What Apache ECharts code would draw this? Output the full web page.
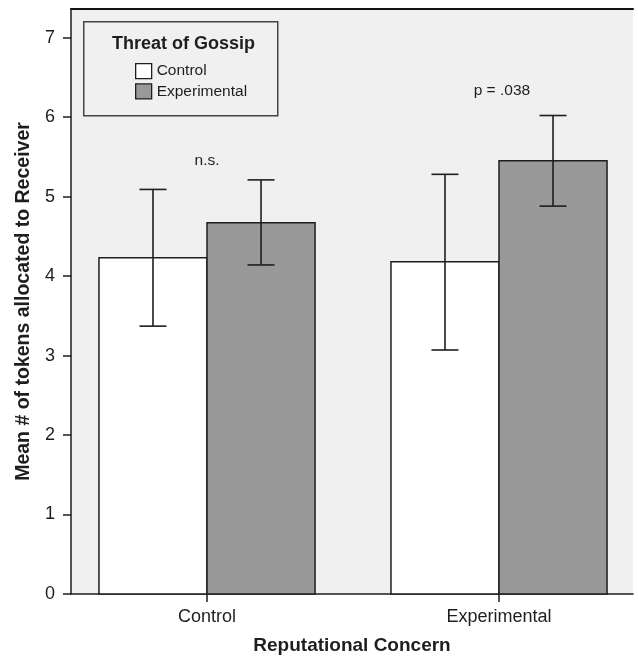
<!DOCTYPE html>
<html>
<head>
<meta charset="utf-8">
<script src="https://cdn.jsdelivr.net/npm/echarts@6/dist/echarts.min.js"></script>
<style>html,body{margin:0;padding:0;background:#fff;}#c{width:638px;height:660px;}</style>
</head>
<body>
<div id="c"></div>
<script>
// ---- data ----
var categories = ['Control', 'Experimental'];
var seriesNames = ['Control', 'Experimental'];
var controlMeans = [4.23, 4.18];
var controlLow = [3.37, 3.07];
var controlHigh = [5.09, 5.28];
var experimentalMeans = [4.67, 5.45];
var experimentalLow = [4.14, 4.88];
var experimentalHigh = [5.21, 6.02];
var yTicks = [0, 1, 2, 3, 4, 5, 6, 7];
var annotationTexts = ['n.s.', 'p = .038'];
var annotationX = [0, 1.01];
var annotationY = [5.45, 6.33];

// ---- style ----
var FONT = 'Liberation Sans, Arial, Helvetica, sans-serif';
var INK = '#1e1e1e';
var BAR_W = 0.37;   // bar width in category units
var CAP = 27;       // error-bar cap width (px)

function barRenderer(offset, fill) {
  return function (params, api) {
    var x = api.value(0), v = api.value(1);
    var a = api.coord([x + offset, v]);
    var b = api.coord([x + offset + BAR_W, 0]);
    return {
      type: 'rect',
      shape: { x: a[0], y: a[1], width: b[0] - a[0], height: b[1] - a[1] },
      style: { fill: fill, stroke: INK, lineWidth: 1.5 }
    };
  };
}
function errRenderer(offset) {
  return function (params, api) {
    var x = api.value(0) + offset + BAR_W / 2;
    var lo = api.coord([x, api.value(1)]);
    var hi = api.coord([x, api.value(2)]);
    var st = { stroke: INK, lineWidth: 1.6 };
    return {
      type: 'group',
      children: [
        { type: 'line', shape: { x1: lo[0], y1: lo[1], x2: hi[0], y2: hi[1] }, style: st },
        { type: 'line', shape: { x1: lo[0] - CAP / 2, y1: lo[1], x2: lo[0] + CAP / 2, y2: lo[1] }, style: st },
        { type: 'line', shape: { x1: hi[0] - CAP / 2, y1: hi[1], x2: hi[0] + CAP / 2, y2: hi[1] }, style: st }
      ]
    };
  };
}
function noteRenderer(params, api) {
  var p = api.coord([api.value(0), api.value(1)]);
  return {
    type: 'text',
    x: p[0], y: p[1],
    style: {
      text: annotationTexts[params.dataIndex],
      fill: INK, font: '15.5px ' + FONT,
      align: 'center', verticalAlign: 'middle'
    }
  };
}

var chart = echarts.init(document.getElementById('c'), null, { renderer: 'canvas' });
var xMin = -0.4658, xMax = 1.4589;
chart.setOption({
  backgroundColor: '#ffffff',
  animation: false,
  textStyle: { fontFamily: FONT },
  grid: { left: 71, right: 5, top: 9, bottom: 65, show: true, backgroundColor: '#f0f0f0', borderWidth: 0 },
  title: {
    text: 'Threat of Gossip', left: 107, top: 30,
    textStyle: { fontFamily: FONT, fontSize: 18, fontWeight: 'bold', color: INK }
  },
  graphic: [{
    type: 'rect', left: 83, top: 21, z: 0,
    shape: { width: 194, height: 94 },
    style: { fill: '#f0f0f0', stroke: '#444', lineWidth: 1.5 }
  }],
  legend: {
    orient: 'vertical', left: 130, top: 58, itemGap: 4, itemWidth: 16, itemHeight: 15,
    icon: 'rect', z: 5,
    textStyle: { fontFamily: FONT, fontSize: 15.5, color: INK },
    data: [
      { name: seriesNames[0], itemStyle: { color: '#ffffff', borderColor: INK, borderWidth: 1.3 } },
      { name: seriesNames[1], itemStyle: { color: '#999999', borderColor: INK, borderWidth: 1.3 } }
    ]
  },
  xAxis: [{
    type: 'value', min: xMin, max: xMax,
    name: 'Reputational Concern', nameLocation: 'middle', nameGap: 42,
    nameTextStyle: { fontFamily: FONT, fontSize: 19, fontWeight: 'bold', color: INK },
    axisLine: { show: true, onZero: false, lineStyle: { color: INK, width: 1.5 } },
    axisTick: { show: true, length: 8, inside: false, customValues: [0, 1], lineStyle: { color: INK, width: 1.5 } },
    axisLabel: {
      customValues: [0, 1], margin: 14,
      formatter: function (v) { return categories[Math.round(v)]; },
      fontFamily: FONT, fontSize: 18, color: INK
    },
    splitLine: { show: false }
  }, {
    type: 'value', min: xMin, max: xMax, position: 'top',
    axisLine: { show: true, onZero: false, lineStyle: { color: '#111', width: 2 } },
    axisTick: { show: false }, axisLabel: { show: false }, splitLine: { show: false }
  }],
  yAxis: {
    type: 'value', min: 0, max: 7.36, position: 'left',
    name: 'Mean # of tokens allocated to Receiver', nameLocation: 'middle', nameGap: 35,
    nameTextStyle: { fontFamily: FONT, fontSize: 19.5, fontWeight: 'bold', color: INK },
    axisLine: { show: true, onZero: false, lineStyle: { color: INK, width: 1.5 } },
    axisTick: { show: true, length: 8, inside: false, customValues: yTicks, lineStyle: { color: INK, width: 1.5 } },
    axisLabel: { customValues: yTicks, margin: 16, fontFamily: FONT, fontSize: 18, color: INK },
    splitLine: { show: false }
  },
  series: [
    {
      name: seriesNames[0], type: 'custom', xAxisIndex: 0,
      itemStyle: { color: '#ffffff', borderColor: INK },
      renderItem: barRenderer(-BAR_W, '#ffffff'),
      encode: { x: 0, y: 1 },
      data: categories.map(function (c, i) { return [i, controlMeans[i]]; })
    },
    {
      name: seriesNames[1], type: 'custom', xAxisIndex: 0,
      itemStyle: { color: '#999999', borderColor: INK },
      renderItem: barRenderer(0, '#999999'),
      encode: { x: 0, y: 1 },
      data: categories.map(function (c, i) { return [i, experimentalMeans[i]]; })
    },
    {
      name: 'errC', type: 'custom', z: 4,
      renderItem: errRenderer(-BAR_W),
      encode: { x: 0, y: [1, 2] },
      data: categories.map(function (c, i) { return [i, controlLow[i], controlHigh[i]]; })
    },
    {
      name: 'errE', type: 'custom', z: 4,
      renderItem: errRenderer(0),
      encode: { x: 0, y: [1, 2] },
      data: categories.map(function (c, i) { return [i, experimentalLow[i], experimentalHigh[i]]; })
    },
    {
      name: 'notes', type: 'custom', z: 5,
      renderItem: noteRenderer,
      encode: { x: 0, y: 1 },
      data: annotationTexts.map(function (t, i) { return [annotationX[i], annotationY[i]]; })
    }
  ]
});
</script>
</body>
</html>
